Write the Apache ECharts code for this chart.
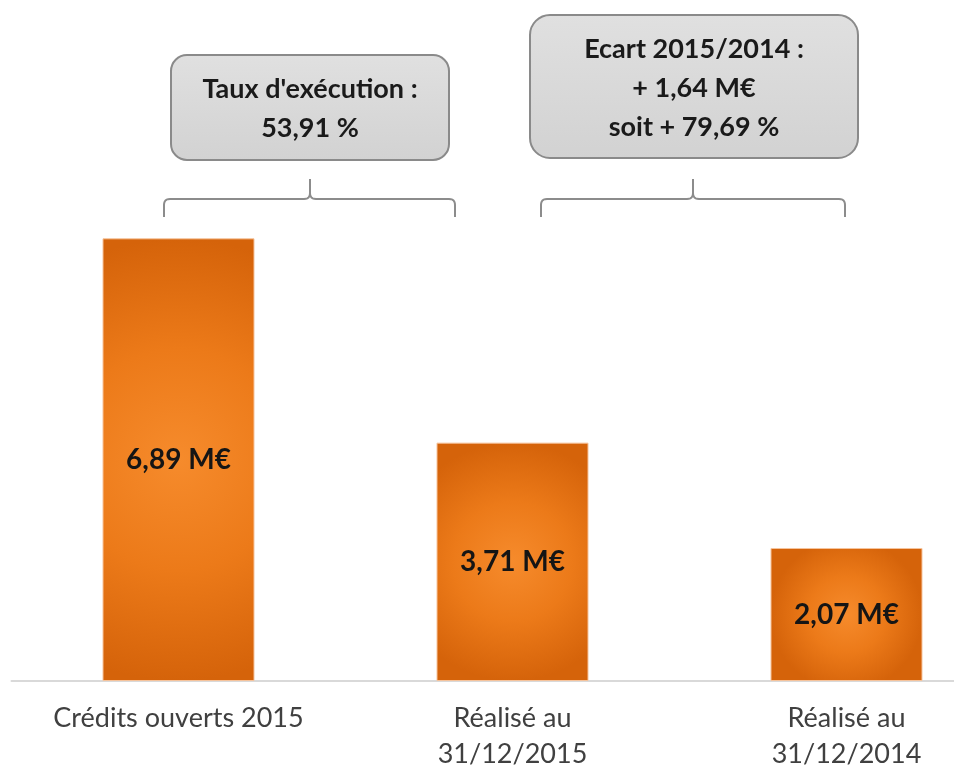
<!DOCTYPE html>
<html>
<head>
<meta charset="utf-8">
<script src="https://cdn.jsdelivr.net/npm/echarts@6/dist/echarts.min.js"></script>
<style>
html,body{margin:0;padding:0;background:#fff;}
#main{width:954px;height:771px;}
</style>
</head>
<body>
<div id="main"></div>
<script>
var categories = ['Crédits ouverts 2015', 'Réalisé au\n31/12/2015', 'Réalisé au\n31/12/2014'];
var values = [6.89, 3.71, 2.07];
var valueLabels = ['6,89 M€', '3,71 M€', '2,07 M€'];
var box1Lines = ["Taux d'exécution :", '53,91 %'];
var box2Lines = ['Ecart 2015/2014 :', '+ 1,64 M€', 'soit + 79,69 %'];

var FONT = 'Lato, "Open Sans", sans-serif';
var chart = echarts.init(document.getElementById('main'), null, {renderer: 'canvas'});
var BAR_W = 152;

function barItem(i, rRel) {
  return {
    value: values[i],
    itemStyle: {
      color: {
        type: 'radial', x: 0.5, y: 0.5, r: rRel,
        colorStops: [
          {offset: 0, color: '#f68b2c'},
          {offset: 0.5, color: '#ec7a19'},
          {offset: 1, color: '#d5630a'}
        ]
      },
      borderColor: '#f6c39b',
      borderWidth: 1
    }
  };
}

var option = {
  animation: false,
  backgroundColor: '#ffffff',
  grid: {left: 11.5, width: 1002, top: 167, bottom: 90, containLabel: false, outerBoundsMode: 'none'},
  xAxis: {
    type: 'category',
    data: categories,
    axisLine: {show: true, lineStyle: {color: '#d9d9d9', width: 2}},
    axisTick: {show: false},
    axisLabel: {
      interval: 0,
      margin: 19,
      color: '#404040',
      fontFamily: FONT,
      fontSize: 27,
      lineHeight: 36
    }
  },
  yAxis: {type: 'value', min: 0, max: 8, show: false, splitLine: {show: false}},
  series: [{
    type: 'bar',
    barWidth: BAR_W,
    data: values.map(function (v, i) { return barItem(i, 0.5); }),
    label: {
      show: true,
      position: 'inside',
      fontFamily: FONT,
      fontWeight: 'bold',
      fontSize: 28,
      color: '#151515',
      formatter: function (p) { return valueLabels[p.dataIndex]; }
    }
  }]
};

chart.setOption(option);

// adapt radial gradient radius to each bar's shape
var y0 = chart.convertToPixel({gridIndex: 0}, [0, 0])[1];
var newData = values.map(function (v, i) {
  var h = y0 - chart.convertToPixel({gridIndex: 0}, [i, v])[1];
  var mn = Math.min(h, BAR_W), mx = Math.max(h, BAR_W);
  return barItem(i, 0.5 * mx / mn);
});
chart.setOption({series: [{data: newData}]});

// annotations
function quad(p0, c, p1, n) {
  var pts = [];
  for (var k = 1; k <= n; k++) {
    var t = k / n, u = 1 - t;
    pts.push([u * u * p0[0] + 2 * u * t * c[0] + t * t * p1[0],
              u * u * p0[1] + 2 * u * t * c[1] + t * t * p1[1]]);
  }
  return pts;
}
function bracketHalves(xl, xm, xr, yh, yEnd, yPeak) {
  var rr = 6;
  var left = [[xl, yEnd], [xl, yh + rr]]
    .concat(quad([xl, yh + rr], [xl, yh], [xl + rr, yh], 6))
    .concat([[xm - rr, yh]])
    .concat(quad([xm - rr, yh], [xm, yh], [xm, yh - rr], 6))
    .concat([[xm, yPeak]]);
  var right = [[xm, yh - rr]]
    .concat(quad([xm, yh - rr], [xm, yh], [xm + rr, yh], 6))
    .concat([[xr - rr, yh]])
    .concat(quad([xr - rr, yh], [xr, yh], [xr, yh + rr], 6))
    .concat([[xr, yEnd]]);
  return [left, right];
}
var bStyle = {fill: null, stroke: '#8c8c8c', lineWidth: 2};
var b1 = bracketHalves(164, 310, 455, 199, 217, 179);
var b2 = bracketHalves(541, 693, 845, 199, 217, 179);

var boxFill = {
  type: 'linear', x: 0, y: 0, x2: 0, y2: 1,
  colorStops: [{offset: 0, color: '#e0e0e0'}, {offset: 1, color: '#d2d2d2'}]
};
var boxStroke = '#8a8a8a';
function textEl(txt, x, y) {
  return {
    type: 'text', x: x, y: y, z: 10,
    style: {
      text: txt,
      fill: '#1a1a1a',
      font: 'bold 27px ' + FONT,
      textAlign: 'center',
      textVerticalAlign: 'middle',
      lineHeight: 39
    }
  };
}

var graphics = [
  {type: 'rect', shape: {x: 171, y: 55, width: 278, height: 105, r: 16},
   style: {fill: boxFill, stroke: boxStroke, lineWidth: 2}},
  textEl(box1Lines.join('\n'), 310, 108.5),
  {type: 'rect', shape: {x: 530, y: 15, width: 328, height: 143, r: 20},
   style: {fill: boxFill, stroke: boxStroke, lineWidth: 2}},
  textEl(box2Lines.join('\n'), 694, 88.5),
  {type: 'polyline', shape: {points: b1[0]}, style: bStyle},
  {type: 'polyline', shape: {points: b1[1]}, style: bStyle},
  {type: 'polyline', shape: {points: b2[0]}, style: bStyle},
  {type: 'polyline', shape: {points: b2[1]}, style: bStyle}
];

chart.setOption({graphic: graphics});
</script>
</body>
</html>
